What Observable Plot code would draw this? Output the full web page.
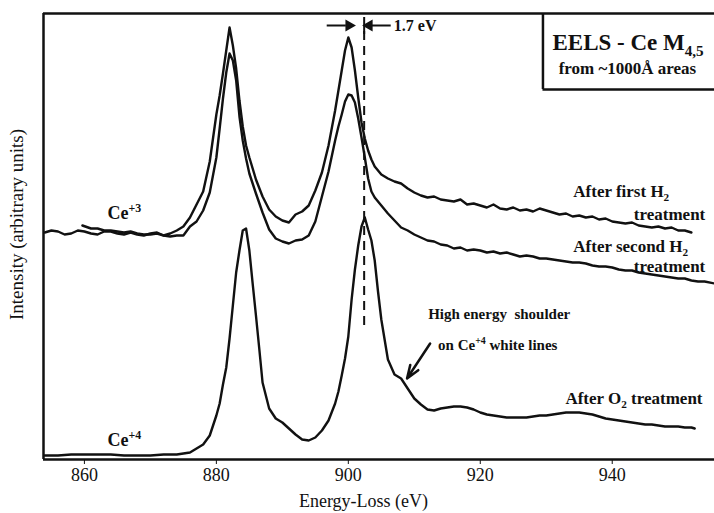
<!DOCTYPE html>
<html>
<head>
<meta charset="utf-8">
<script src="https://cdn.jsdelivr.net/npm/d3@7"></script>
<script src="https://cdn.jsdelivr.net/npm/@observablehq/plot@0.6"></script>
<style>
  html, body { margin: 0; padding: 0; background: #fff; }
  #chart { width: 714px; height: 513px; }
</style>
</head>
<body>
<div id="chart"></div>
<script>
// EELS spectra of the Ce M4,5 edge (energy loss in eV, intensity in arbitrary units)

const energyFirstH2 = [854,855,856,857,858,859,860,861,862,863,864,865,866,867,868,869,870,871,872,873,874,875,876,877,878,879,880,880.5,881,881.5,882,882.5,883,883.5,884,884.5,885,886,887,888,889,890,891,892,893,894,895,896,897,898,898.5,899,899.5,900,900.5,901,901.5,902,902.5,903,903.5,904,905,906,907,908,909,910,911,912,913,914,915,916,917,918,919,920,921,922,923,924,925,926,927,928,929,930,931,932,933,934,935,936,937,938,939,940,941,942,943,944,945,946,947,948,949,950,951,952];
const intensityFirstH2 = [227,229,228,225,226,229,228,226,225,228,228,226,225,227,225,224,226,227,224,226,229,233,242,255,268,298,345,364,386,409,432,414,391,359,333,314,302,280,263,250,243,239,237,245,248,254,269,287,314,349,369,389,409,422,412,389,362,337,321,309,300,293,285,281,278,276,271,267,264,262,263,260,259,258,260,255,256,254,252,255,251,250,252,249,250,248,251,249,247,245,246,243,244,242,243,240,241,238,237,236,237,234,233,232,233,231,232,229,229,227];

const energySecondH2 = [859.7,861,862,863,864,865,866,867,868,869,870,871,872,873,874,875,876,877,878,879,880,880.5,881,881.5,882,882.5,883,883.5,884,884.5,885,886,887,888,889,890,891,892,893,894,895,896,897,898,898.5,899,899.5,900,900.5,901,901.5,902,902.5,903,903.5,904,905,906,907,908,909,910,911,912,913,914,915,916,917,918,919,920,921,922,923,924,925,926,927,928,929,930,931,932,933,934,935,936,937,938,939,940,941,942,943,944,945,946,947,948,949,950,951,952,953,954,955.5];
const intensitySecondH2 = [234,231,231,229,229,228,227,228,226,225,225,226,224,223,224,224,233,238,249,267,302,331,361,387,406,399,379,343,319,301,286,266,247,230,221,218,216,219,220,224,238,263,288,319,333,345,358,365,364,357,341,322,302,281,268,262,254,246,239,232,229,225,222,219,218,215,214,211,212,209,210,209,207,208,206,207,205,203,204,203,201,201,200,199,198,197,197,196,194,193,193,192,190,189,189,187,186,185,184,183,182,181,181,179,178,178,176];

const energyO2 = [854,856,858,860,862,864,866,868,870,872,874,875,876,877,878,879,880,880.5,881,881.5,882,882.5,883,883.5,884,884.5,885,885.5,886,886.5,887,888,889,890,891,892,893,894,895,896,897,898,898.5,899,899.5,900,900.5,901,901.5,902,902.5,903,903.5,904,904.5,905,906,907,908,909,910,911,912,913,914,915,916,917,918,919,920,921,922,923,924,925,926,927,928,929,930,931,932,933,934,935,936,937,938,939,940,941,942,943,944,945,946,947,948,949,950,951,952,952.5];
const intensityO2 = [4,4,5,5,5,5,4,4,4,5,5,6,7,11,15,24,44,56,75,92,121,154,187,209,229,231,209,176,144,111,77,51,41,37,31,25,20,19,22,29,39,56,68,84,101,123,160,190,214,233,242,230,219,199,168,140,100,85,81,71,61,55,50,49,51,52,53,53,52,50,47,45,44,43,42,42,42,42,43,44,44,45,46,47,47,47,46,45,43,41,40,39,38,37,36,35,35,34,33,33,33,32,32,31];

// M4 peak of the reduced (Ce+3) spectrum and its chemical shift in the oxidised one
const m4Reduced = 900.7;
const m4Shift = 1.7;

const xTicks = [860, 880, 900, 920, 940];
const xDomain = [853.8, 955.5];
const yDomain = [0, 446];

const toRows = (es, is) => es.map((e, i) => ({energy: e, intensity: is[i]}));
const firstH2 = toRows(energyFirstH2, intensityFirstH2);
const secondH2 = toRows(energySecondH2, intensitySecondH2);
const oxidised = toRows(energyO2, intensityO2);

// Annotations (markup: _{...} subscript, ^{...} superscript)
const labels = [
  {x: 942.4, y: 417, text: "EELS - Ce M_{4,5}", size: 23, anchor: "middle"},
  {x: 942.3, y: 391, text: "from ~1000Å areas", size: 17, anchor: "middle"},
  {x: 906.9, y: 434, text: "1.7 eV", size: 16, anchor: "start"},
  {x: 934.1, y: 268, text: "After first H_{2}", size: 17, anchor: "start"},
  {x: 954.1, y: 245, text: "treatment", size: 17, anchor: "end"},
  {x: 934.1, y: 213, text: "After second H_{2}", size: 17, anchor: "start"},
  {x: 954.1, y: 193, text: "treatment", size: 17, anchor: "end"},
  {x: 912.1, y: 145, text: "High energy  shoulder", size: 15, anchor: "start"},
  {x: 913.6, y: 114, text: "on Ce^{+4} white lines", size: 15, anchor: "start"},
  {x: 932.9, y: 61, text: "After O_{2} treatment", size: 17, anchor: "start"},
  {x: 863.5, y: 246, text: "Ce^{+3}", size: 18, anchor: "start"},
  {x: 863.5, y: 19, text: "Ce^{+4}", size: 18, anchor: "start"}
];

const serif = "'Liberation Serif', 'DejaVu Serif', serif";
const ink = "#111";

const textMarks = labels.map(d => Plot.text([d], {
  x: "x", y: "y", text: "text", fontSize: d.size, fontWeight: "bold",
  textAnchor: d.anchor, fill: ink, fontFamily: serif
}));

const chart = Plot.plot({
  width: 714,
  height: 513,
  marginLeft: 43,
  marginRight: 0,
  marginTop: 13,
  marginBottom: 54,
  style: {fontFamily: serif, fontSize: "18px", color: ink, background: "#fff"},
  x: {domain: xDomain, ticks: xTicks, tickSize: 5, tickPadding: 4, label: null, tickFormat: d => String(d)},
  y: {domain: yDomain, axis: null},
  marks: [
    // plot frame: top, bottom and left edges
    Plot.ruleY([yDomain[1]], {stroke: ink, strokeWidth: 2.5}),
    Plot.ruleY([yDomain[0]], {stroke: ink, strokeWidth: 2.5}),
    Plot.ruleX([xDomain[0]], {stroke: ink, strokeWidth: 2.5}),
    // title box
    Plot.ruleX([929.5], {y1: 370, y2: yDomain[1], stroke: ink, strokeWidth: 2.5}),
    Plot.ruleY([370], {x1: 929.5, x2: xDomain[1], stroke: ink, strokeWidth: 2.5}),
    // spectra
    Plot.line(firstH2, {x: "energy", y: "intensity", stroke: ink, strokeWidth: 2.4}),
    Plot.line(secondH2, {x: "energy", y: "intensity", stroke: ink, strokeWidth: 2.4}),
    Plot.line(oxidised, {x: "energy", y: "intensity", stroke: ink, strokeWidth: 2.4}),
    // chemical shift marker
    Plot.ruleX([m4Reduced + m4Shift], {y1: 134, y2: 434, stroke: ink, strokeWidth: 2, strokeDasharray: "9,6"}),
    Plot.ruleX([m4Reduced + m4Shift], {y1: 425, y2: 442, stroke: ink, strokeWidth: 2}),
    Plot.ruleY([434], {x1: m4Reduced - 3.9, x2: m4Reduced - 1, stroke: ink, strokeWidth: 2}),
    Plot.dot([{x: m4Reduced, y: 434}], {x: "x", y: "y", symbol: "triangle", r: 4.5, rotate: 90, fill: ink, stroke: null, dx: -4}),
    Plot.ruleY([434], {x1: m4Reduced + m4Shift + 1, x2: m4Reduced + m4Shift + 4.1, stroke: ink, strokeWidth: 2}),
    Plot.dot([{x: m4Reduced + m4Shift, y: 434}], {x: "x", y: "y", symbol: "triangle", r: 4.5, rotate: -90, fill: ink, stroke: null, dx: 5}),
    // shoulder pointer
    Plot.arrow([{x1: 912.4, y1: 116, x2: 908.9, y2: 81}], {x1: "x1", y1: "y1", x2: "x2", y2: "y2", stroke: ink, strokeWidth: 2.5, headLength: 10, headAngle: 40}),
    ...textMarks,
    // axis titles
    Plot.text([{x: 902.3, y: 0}], {x: "x", y: "y", text: () => "Energy-Loss (eV)", dy: 42, fontSize: 18, fill: ink, fontFamily: serif}),
    Plot.text([{x: xDomain[0], y: 235}], {x: "x", y: "y", text: () => "Intensity (arbitrary units)", dx: -27, rotate: -90, fontSize: 19, fill: ink, fontFamily: serif})
  ]
});

document.getElementById("chart").appendChild(chart);

// turn _{..} / ^{..} markup into sub- and superscript tspans
chart.querySelectorAll("text").forEach(t => {
  const s = t.textContent;
  if (!/[_^]\{/.test(s)) return;
  const fs = parseFloat(getComputedStyle(t).fontSize) || 16;
  while (t.firstChild) t.removeChild(t.firstChild);
  const re = /([_^])\{([^}]*)\}/g;
  let last = 0, m, pending = 0;
  const add = (str, dy, size) => {
    const ts = document.createElementNS("http://www.w3.org/2000/svg", "tspan");
    ts.textContent = str;
    if (dy) ts.setAttribute("dy", dy);
    if (size) ts.setAttribute("font-size", size);
    t.appendChild(ts);
  };
  while ((m = re.exec(s))) {
    if (m.index > last) { add(s.slice(last, m.index), pending); pending = 0; }
    const shift = m[1] === "_" ? 0.26 * fs : -0.42 * fs;
    add(m[2], pending + shift, 0.66 * fs);
    pending = -shift;
    last = re.lastIndex;
  }
  if (last < s.length) add(s.slice(last), pending);
});
</script>
</body>
</html>
